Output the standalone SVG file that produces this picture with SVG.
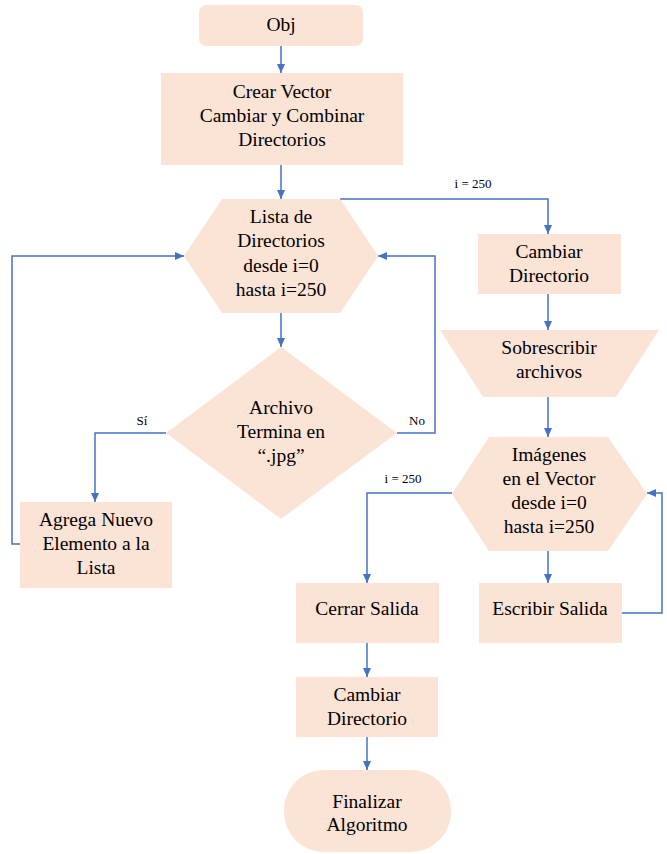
<svg xmlns="http://www.w3.org/2000/svg" width="667" height="854" viewBox="0 0 667 854">
<defs>
<style>
.n{fill:#FBE4D5;stroke:none}
.t{font-size:19.5px;fill:#000;text-anchor:middle}
.s{font-size:13px;fill:#000;text-anchor:middle}
.c{fill:none;stroke:#4472C4;stroke-width:1.5}
</style>
<marker id="a" markerUnits="userSpaceOnUse" markerWidth="10" markerHeight="10" refX="9" refY="5" orient="auto">
<path d="M0,1 L9,5 L0,9 Z" fill="#4472C4"/>
</marker>
</defs>
<rect width="667" height="854" fill="#fff"/>
<g font-family="Liberation Serif, DejaVu Serif, serif">
<g id="connectors">
<path class="c" d="M281,46 V73" marker-end="url(#a)"/>
<path class="c" d="M281,165 V199" marker-end="url(#a)"/>
<path class="c" d="M340,199 H548 V234" marker-end="url(#a)"/>
<path class="c" d="M281,313 V347" marker-end="url(#a)"/>
<path class="c" d="M166,433 H95 V502" marker-end="url(#a)"/>
<path class="c" d="M20,544 H12 V256 H184" marker-end="url(#a)"/>
<path class="c" d="M397,433 H435 V256 H378" marker-end="url(#a)"/>
<path class="c" d="M548,294 V330" marker-end="url(#a)"/>
<path class="c" d="M548,397 V437" marker-end="url(#a)"/>
<path class="c" d="M452,493 H367 V583" marker-end="url(#a)"/>
<path class="c" d="M548,551 V583" marker-end="url(#a)"/>
<path class="c" d="M622,613 H662 V493 H647" marker-end="url(#a)"/>
<path class="c" d="M367,643 V677" marker-end="url(#a)"/>
<path class="c" d="M367,737 V770" marker-end="url(#a)"/>
<text class="s" x="473" y="188">i = 250</text>
<text class="s" x="142" y="425">Sí</text>
<text class="s" x="417" y="425">No</text>
<text class="s" x="403" y="483">i = 250</text>
</g>
<g id="obj">
<rect class="n" x="199" y="5" width="164" height="41" rx="7"/>
<text class="t" x="281" y="31">Obj</text>
</g>
<g id="crear">
<rect class="n" x="161" y="73" width="242" height="92"/>
<text class="t" x="282" y="98">Crear Vector</text>
<text class="t" x="282" y="122">Cambiar y Combinar</text>
<text class="t" x="282" y="146">Directorios</text>
</g>
<g id="lista">
<polygon class="n" points="222,199 340,199 378,256 340,313 222,313 184,256"/>
<text class="t" x="281" y="223">Lista de</text>
<text class="t" x="281" y="247">Directorios</text>
<text class="t" x="281" y="272">desde i=0</text>
<text class="t" x="281" y="296">hasta i=250</text>
</g>
<g id="archivo">
<polygon class="n" points="281,347 397,433 281,519 166,433"/>
<text class="t" x="281" y="414">Archivo</text>
<text class="t" x="281" y="438">Termina en</text>
<text class="t" x="281" y="462">“.jpg”</text>
</g>
<g id="agrega">
<rect class="n" x="20" y="502" width="152" height="86"/>
<text class="t" x="96" y="526">Agrega Nuevo</text>
<text class="t" x="96" y="550">Elemento a la</text>
<text class="t" x="96" y="574">Lista</text>
</g>
<g id="cambiar1">
<rect class="n" x="478" y="234" width="143" height="60"/>
<text class="t" x="549" y="258">Cambiar</text>
<text class="t" x="549" y="282">Directorio</text>
</g>
<g id="sobrescribir">
<polygon class="n" points="440,330 659,330 616,397 483,397"/>
<text class="t" x="549" y="354">Sobrescribir</text>
<text class="t" x="549" y="378">archivos</text>
</g>
<g id="imagenes">
<polygon class="n" points="489,437 608,437 647,494 608,551 489,551 452,494"/>
<text class="t" x="549" y="461">Imágenes</text>
<text class="t" x="549" y="485">en el Vector</text>
<text class="t" x="549" y="509">desde i=0</text>
<text class="t" x="549" y="533">hasta i=250</text>
</g>
<g id="cerrar">
<rect class="n" x="296" y="583" width="143" height="60"/>
<text class="t" x="367" y="615">Cerrar Salida</text>
</g>
<g id="escribir">
<rect class="n" x="479" y="583" width="143" height="60"/>
<text class="t" x="550" y="615">Escribir Salida</text>
</g>
<g id="cambiar2">
<rect class="n" x="296" y="677" width="142" height="60"/>
<text class="t" x="367" y="701">Cambiar</text>
<text class="t" x="367" y="725">Directorio</text>
</g>
<g id="finalizar">
<rect class="n" x="284" y="770" width="167" height="82" rx="40"/>
<text class="t" x="367" y="808">Finalizar</text>
<text class="t" x="367" y="831">Algoritmo</text>
</g>
</g>
</svg>
